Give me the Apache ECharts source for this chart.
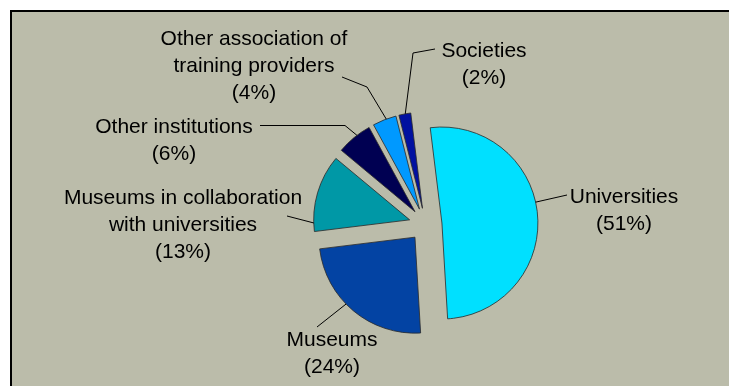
<!DOCTYPE html>
<html>
<head>
<meta charset="utf-8">
<script src="https://cdn.jsdelivr.net/npm/echarts@6/dist/echarts.min.js"></script>
<style>
  html, body { margin: 0; padding: 0; background: #ffffff; }
  #chart { width: 729px; height: 386px; }
</style>
</head>
<body>
<div id="chart"></div>
<script>
// Shares of training provision by type of provider (percent)
const categories = [
  'Universities',
  'Museums',
  'Museums in collaboration\nwith universities',
  'Other institutions',
  'Other association of\ntraining providers',
  'Societies'
];
const shares = [51, 24, 13, 6, 4, 2];
const sliceColors = ['#00e0ff', '#0343a3', '#0098a6', '#000052', '#0099ff', '#0010a0'];

// Pie geometry
const CX = 425.5, CY = 224.5, R = 96, OFFSET = 16.5, START = 97;

// Where each label block is centred and how its leader line bends;
// lineAt = position along the slice's arc where the leader line starts (0..1)
const labelPlace = [
  { x: 624, y: 211,   lineAt: 0.46, bends: [[567, 195]] },
  { x: 332, y: 354,   lineAt: 0.57, bends: [[317, 327]] },
  { x: 183, y: 225.5, lineAt: 0.11, bends: [[287, 216]] },
  { x: 174, y: 140.5, lineAt: 0.60, bends: [[345, 125.5], [260, 125.5]] },
  { x: 254, y: 66,    lineAt: 0.58, bends: [[367, 87], [342, 77]] },
  { x: 484, y: 65,    lineAt: 0.54, bends: [[413, 53], [435, 49]] }
];

// Start point of each leader line on the exploded slice's outer arc
const total = shares.reduce((a, b) => a + b, 0);
const lineStarts = [];
(function () {
  let a = START;
  shares.forEach((v, i) => {
    const span = v / total * 360;
    const mid = (a - span / 2) * Math.PI / 180;
    const ax = CX + OFFSET * Math.cos(mid);
    const ay = CY - OFFSET * Math.sin(mid);
    const t = (a - span * labelPlace[i].lineAt) * Math.PI / 180;
    lineStarts.push([ax + R * Math.cos(t), ay - R * Math.sin(t)]);
    a -= span;
  });
})();

const FONT = '21px "Liberation Sans", Arial, sans-serif';

// Category labels with their leader lines
const labelGraphics = [];
categories.forEach((name, i) => {
  const p = labelPlace[i];
  labelGraphics.push({
    type: 'polyline',
    z: 20,
    silent: true,
    shape: { points: [lineStarts[i]].concat(p.bends) },
    style: { stroke: '#000000', lineWidth: 1, fill: null }
  });
  labelGraphics.push({
    type: 'text',
    z: 20,
    silent: true,
    x: p.x,
    y: p.y,
    style: {
      text: name + '\n(' + shares[i] + '%)',
      font: FONT,
      fill: '#000000',
      align: 'center',
      verticalAlign: 'middle',
      lineHeight: 27
    }
  });
});

const chart = echarts.init(document.getElementById('chart'), null, { renderer: 'canvas' });

chart.setOption({
  animation: false,
  backgroundColor: '#ffffff',
  graphic: [{
    type: 'rect',
    z: -10,
    silent: true,
    shape: { x: 11, y: 11, width: 740, height: 400 },
    style: { fill: '#bbbcaa', stroke: '#000000', lineWidth: 2 }
  }].concat(labelGraphics),
  series: [{
    type: 'pie',
    center: [CX, CY],
    radius: R,
    startAngle: START,
    clockwise: true,
    silent: true,
    selectedMode: 'multiple',
    selectedOffset: OFFSET,
    avoidLabelOverlap: false,
    itemStyle: { borderColor: '#2a2a2a', borderWidth: 0.8 },
    label: { show: false },
    labelLine: { show: false },
    data: categories.map((name, i) => ({
      name: name,
      value: shares[i],
      selected: true,
      itemStyle: { color: sliceColors[i] }
    }))
  }]
});
</script>
</body>
</html>
